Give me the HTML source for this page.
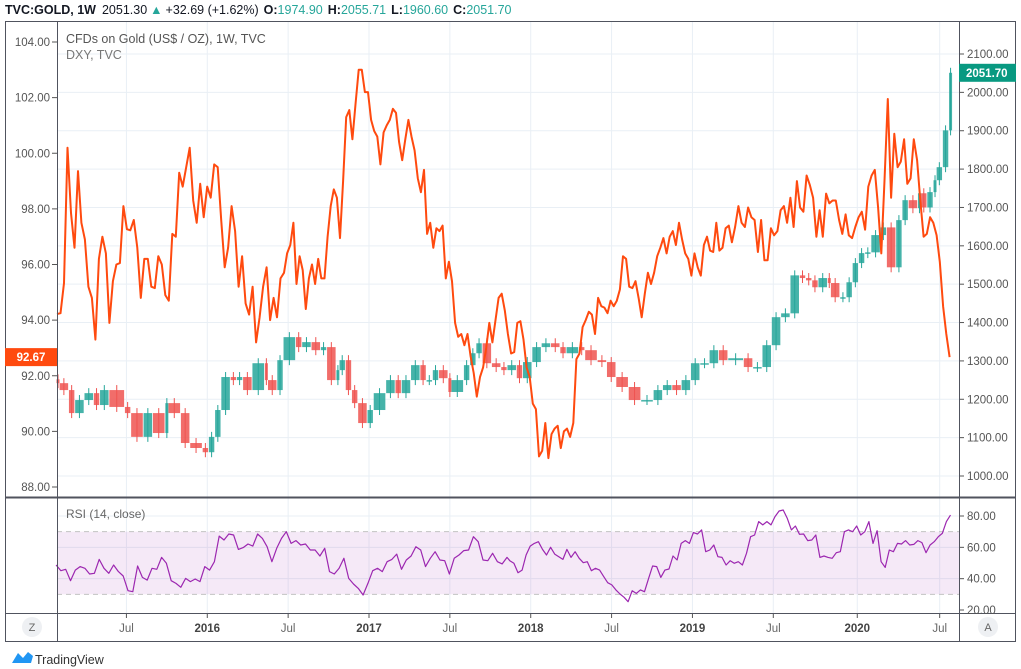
<!DOCTYPE html>
<html><head><meta charset="utf-8">
<style>
html,body{margin:0;padding:0;background:#fff;}
svg{display:block;font-family:"Liberation Sans",sans-serif;}
</style></head>
<body>
<svg id="chart" width="1021" height="669" viewBox="0 0 1021 669" xmlns="http://www.w3.org/2000/svg">
  <rect x="0" y="0" width="1021" height="669" fill="#fff"/>
  <g id="grid"></g>
  <g id="rsiband"></g>
  <g id="gold"></g>
  <g id="dxy"></g>
  <g id="rsi"></g>
  <g id="frame"></g>
  <g id="axes"></g>
  <text x="5" y="14" font-size="12.5" fill="#131722"><tspan font-weight="bold">TVC:GOLD, 1W</tspan><tspan dx="6">2051.30</tspan><tspan fill="#26a69a" dx="3">▲</tspan><tspan dx="3">+32.69 (+1.62%)</tspan><tspan dx="5" font-weight="bold">O:</tspan><tspan fill="#26a69a">1974.90</tspan><tspan dx="5" font-weight="bold">H:</tspan><tspan fill="#26a69a">2055.71</tspan><tspan dx="5" font-weight="bold">L:</tspan><tspan fill="#26a69a">1960.60</tspan><tspan dx="5" font-weight="bold">C:</tspan><tspan fill="#26a69a">2051.70</tspan></text>
  <text x="66" y="43" font-size="12.5" fill="#555">CFDs on Gold (US$ / OZ), 1W, TVC</text>
  <text x="66" y="59" font-size="12.5" fill="#777">DXY, TVC</text>
  <text x="66" y="518" font-size="12" fill="#666">RSI (14, close)</text>
  <circle cx="32" cy="627" r="10" fill="#eef0f3"/>
  <text x="32" y="631" font-size="11" fill="#666" text-anchor="middle">Z</text>
  <circle cx="988" cy="627" r="10" fill="#eef0f3"/>
  <text x="988" y="631" font-size="11" fill="#666" text-anchor="middle">A</text>
  <g>
    <path d="M12 663 L18 653 L23 658 L28 652 L33 656 L31 663 Z" fill="#2196f3"/>
    <text x="35" y="664" font-size="12.5" fill="#333">TradingView</text>
  </g>
</svg>
<script>
// ---- data ----
const goldWeeks = [0,1,4,6,9,12,14,17,22,24,28,31,35,36,40,43,47,49,51,53,56,58,60,63,67,68,71,73,77,79,82,85,87,90,91,93,95,97,100,102,106,109,111,114,117,119,121,123,126,127,131,133,135,137,140,143,145,148,150,153,156,159,162,164,168,170,174,177,180,184,188,192,195,198,201,204,207,210,213,216,221,224,227,230,233,236,239,241,243,245,248,249,252,254,256,258,260,262,265,267,270,272,274,277,278,280,282,283,285,287];
const goldClose = [1242,1224,1164,1198,1216,1185,1224,1180,1164,1102,1164,1112,1190,1164,1086,1073,1062,1102,1172,1258,1250,1258,1224,1294,1250,1224,1302,1362,1336,1349,1328,1336,1250,1276,1302,1224,1190,1138,1172,1216,1250,1216,1250,1289,1250,1250,1276,1255,1219,1250,1289,1320,1346,1294,1284,1276,1289,1255,1297,1336,1346,1336,1320,1336,1328,1302,1297,1258,1232,1198,1198,1224,1237,1224,1250,1294,1294,1328,1302,1307,1284,1284,1341,1414,1424,1523,1516,1510,1492,1516,1503,1466,1466,1505,1555,1581,1583,1628,1648,1544,1667,1719,1698,1737,1700,1740,1771,1805,1901,2051];
const dxyValues = [94.22,94.25,95.33,100.2,97.85,96.6,99.36,97.5,96.9,95.2,94.8,93.3,96.2,97.0,96.4,93.9,95.4,96.0,96.05,98.1,97.27,97.23,97.6,96.6,94.8,96.2,96.2,95.2,95.15,96.3,96.0,94.9,94.7,97.1,97.0,99.3,98.8,99.5,100.2,98.3,97.5,98.9,97.7,98.8,98.4,99.6,99.5,97.6,95.9,96.6,98.1,97.2,95.2,96.3,94.6,94.2,95.2,93.2,94.1,95.2,95.9,94.0,94.8,94.1,95.5,95.7,
96.4,96.7,97.5,95.3,96.3,95.8,94.4,95.5,96.0,95.3,96.2,95.5,95.5,97.0,98.1,98.7,98.4,96.95,99.0,101.3,101.55,100.5,101.8,103.0,103.0,102.2,102.2,101.2,100.8,100.6,99.6,100.75,101.0,101.2,101.6,101.45,100.4,99.75,100.5,101.2,100.6,100.1,99.1,98.6,99.4,97.1,97.5,96.6,97.3,97.2,97.4,95.5,96.1,95.4,93.9,93.4,93.5,93.1,93.5,92.7,92.1,91.25,91.95,92.3,93.0,93.9,93.2,94.0,94.8,94.95,94.35,
93.5,92.8,92.85,93.9,93.96,93.3,92.3,91.95,91.0,90.8,89.1,89.3,90.3,89.04,89.9,90.1,90.2,89.4,90.0,90.1,89.8,90.3,92.6,92.8,93.75,94.0,94.3,94.2,93.5,94.8,94.5,94.45,94.25,94.7,94.5,94.7,95.1,96.3,96.2,95.2,95.15,95.4,94.8,94.1,94.95,95.7,95.3,95.7,96.3,96.6,96.95,96.4,97.0,97.2,96.7,97.5,96.9,96.4,96.2,95.6,96.4,95.9,95.6,96.7,97.0,96.5,96.45,97.5,96.5,96.6,97.3,
97.4,96.8,97.35,98.1,97.5,97.35,98.05,97.7,97.6,96.45,97.6,96.15,96.15,97.3,97.05,97.2,97.95,98.1,97.5,98.4,97.35,99.0,98.05,97.9,99.2,98.85,98.4,97.0,97.95,97.0,98.55,98.2,98.3,98.3,97.6,97.1,97.8,97.05,96.95,97.35,97.7,97.9,97.25,98.8,99.2,99.4,98.05,96.4,99.1,101.95,98.4,100.7,99.5,99.7,100.5,98.9,99.1,100.5,99.75,98.3,97.0,97.1,97.7,97.5,97.05,96.1,94.5,93.5,92.67];
const dxySegCounts = [66,71,72];
const dxySegWeeks = [[0,73],[74,144],[145,216],[217,287]];
const rsiValues = [48.7,45.1,46,38.7,45.5,47.7,46.6,43,43.4,52.3,46.6,43.4,48.7,44.5,41.7,32.3,31.7,48.1,40.8,39.1,46.6,46,53.6,49.8,38.7,37,34.5,40.2,38.1,39.8,38.1,47.7,45.5,50.8,67.2,64.7,68.5,67.9,58.7,59.8,62.1,60.8,68.5,65.7,60.4,50.8,59.4,65.7,70,62.5,64.3,61.5,62.1,58.3,58.3,54.5,59.4,44.5,43,46.6,53,40.2,36.6,33.8,29.6,37,45.1,46.6,44.5,50.8,52.3,55.7,46,51.9,54.5,60.4,58.3,47.7,53,57.2,51.9,51.5,43,53,55.1,57.9,58.3,66.8,63.6,51.9,51.5,56.2,50.8,49.4,53.6,
51.5,49.8,43.8,45.5,55.1,60.8,62.5,63.6,58.7,55.1,60,55.7,54,52.3,58.7,53.6,57.2,53,50.2,50.8,45.1,46.6,45.5,41.3,37.4,36,32.8,30.2,28.1,25.3,32.3,30.6,32.8,31.7,40.2,48.1,47.7,40.8,45.5,46.2,54.5,51.9,62.5,64.3,62.5,69.4,68.5,71.1,57.2,58.3,61.5,54,53.6,48.7,51.5,49.8,50.8,48.7,56.2,66.8,67.9,76.4,74.3,76.4,74.3,79.6,83.2,83.8,78.5,71.1,73.6,68.3,68.5,64.3,64.7,67.9,53.6,54.5,53.6,53,56.6,57.2,70,71.1,70,73.6,67.9,70,76.4,62.5,70.6,50.8,47.2,58.3,57.2,62.5,62.1,64.3,61.5,61.9,64.3,63,56.6,61.5,63.6,66.8,68.9,76.4,80.6];
const rsiSegCounts = [95];
const rsiSegWeeks = [[-0.3,144.7],[145.6,287.3]];
const leftTicks = [104,102,100,98,96,94,92,90,88];
const rightTicks = [2100,2000,1900,1800,1700,1600,1500,1400,1300,1200,1100,1000];
const rsiTicks = [80,60,40,20];
const timeLabels = ["Jul","2016","Jul","2017","Jul","2018","Jul","2019","Jul","2020","Jul"];
const timeLabelWeeks = [22,48,74,100,126,152,178,204,230,257,283.5];

// ---- axis functions ----
const yL = v => 42 + (104 - v) * 27.8125;
const yR = p => 54 + (2100 - p) * 0.38364;
const yRsi = r => 516 + (80 - r) * 1.5667;
const xW = w => 58 + w * 3.11;
const NS = "http://www.w3.org/2000/svg";
function mk(tag, attrs, parent){ const e=document.createElementNS(NS,tag); for(const k in attrs) e.setAttribute(k,attrs[k]); parent.appendChild(e); return e; }
function segWeeks(values, counts, spans){
  const out=[]; let idx=0;
  spans.forEach((span,s)=>{
    const cnt = s<counts.length ? counts[s] : values.length-idx;
    for(let k=0;k<cnt;k++) out.push(span[0]+(cnt>1?k*(span[1]-span[0])/(cnt-1):0));
    idx+=cnt;
  });
  return out;
}

const grid = document.getElementById('grid');
rightTicks.forEach(p=>{ const l=mk('line',{x1:57,x2:959,y1:yR(p),y2:yR(p),stroke:'#e9eff5','stroke-width':1},grid);
  
   });
timeLabelWeeks.forEach(w=>{ const l=mk('line',{x1:xW(w),x2:xW(w),y1:22,y2:613,stroke:'#e9eff5','stroke-width':1},grid);
  
   });
[80,60,40].forEach(r=>{ const l=mk('line',{x1:57,x2:959,y1:yRsi(r),y2:yRsi(r),stroke:'#e9eff5'},grid);
  
   });

const band = document.getElementById('rsiband');
mk('rect',{x:57,y:yRsi(70),width:902,height:yRsi(30)-yRsi(70),fill:'#9c27b0','fill-opacity':0.1},band);
[70,30].forEach(r=>{ const l=mk('line',{x1:57,x2:959,y1:yRsi(r),y2:yRsi(r),stroke:'#c3c3c3','stroke-dasharray':'5,4'},band);
  
   });

// gold candles
const gg = document.getElementById('gold');
for(let i=0;i<goldClose.length;i++){
  const c=goldClose[i], o=i>0?goldClose[i-1]:c+10;
  const up=c>=o, col=up?'#26a69a':'#ef5350';
  const gap=i<goldClose.length-1?goldWeeks[i+1]-goldWeeks[i]:1;
  const x0=xW(goldWeeks[i])-1.5;
  const wd=Math.max(3, gap*3.11-0.8);
  const yt=yR(Math.max(o,c)), yb=yR(Math.min(o,c));
  const w=mk('line',{x1:x0+wd/2,x2:x0+wd/2,y1:yt-5,y2:yb+5,stroke:col,'stroke-width':1},gg);
  
  
  const b=mk('rect',{x:x0,y:yt,width:wd,height:Math.max(1.5,yb-yt),fill:col,'fill-opacity':0.85},gg);
  
  
}

// DXY line
const dxyWeekOf=segWeeks(dxyValues,dxySegCounts,dxySegWeeks);
const dg=document.getElementById('dxy');
const dpts=dxyValues.map((v,i)=>(xW(dxyWeekOf[i])-1).toFixed(1)+','+yL(v).toFixed(1)).join(' ');
const dl=mk('polyline',{points:dpts,fill:'none',stroke:'#ff4a0f','stroke-width':2,'stroke-linejoin':'round'},dg);



// RSI line
const rsiWeekOf=segWeeks(rsiValues,rsiSegCounts,rsiSegWeeks);
const rg=document.getElementById('rsi');
const rpts=rsiValues.map((v,i)=>(xW(rsiWeekOf[i])-1).toFixed(1)+','+yRsi(v).toFixed(1)).join(' ');
const rl=mk('polyline',{points:rpts,fill:'none',stroke:'#9c27b0','stroke-width':1.2,'stroke-linejoin':'round'},rg);



// frame
const fr=document.getElementById('frame');
mk('rect',{x:5.5,y:21.5,width:1010,height:620,fill:'none',stroke:'#50535e'},fr);
mk('line',{x1:57.5,x2:57.5,y1:22,y2:641,stroke:'#50535e'},fr);
mk('line',{x1:959.5,x2:959.5,y1:22,y2:641,stroke:'#50535e'},fr);
mk('line',{x1:5,x2:1016,y1:497.5,y2:497.5,stroke:'#50535e','stroke-width':2},fr);
mk('line',{x1:5,x2:1016,y1:613.5,y2:613.5,stroke:'#50535e'},fr);

// axes labels
const ax=document.getElementById('axes');
leftTicks.forEach(v=>{ const y=yL(v);
  mk('line',{x1:52,x2:57,y1:y,y2:y,stroke:'#555'},ax);
  const t=mk('text',{x:50,y:y+4,'font-size':11.5,fill:'#555','text-anchor':'end'},ax); t.textContent=v.toFixed(2);
  
   });
rightTicks.forEach(p=>{ const y=yR(p);
  mk('line',{x1:960,x2:964,y1:y,y2:y,stroke:'#555'},ax);
  const t=mk('text',{x:967,y:y+4,'font-size':11.5,fill:'#555'},ax); t.textContent=p.toFixed(2);
  
   });
rsiTicks.forEach(r=>{ const y=yRsi(r);
  mk('line',{x1:960,x2:964,y1:y,y2:y,stroke:'#555'},ax);
  const t=mk('text',{x:967,y:y+4,'font-size':11.5,fill:'#555'},ax); t.textContent=r.toFixed(2);
  
   });
timeLabels.forEach((s,i)=>{ const x=xW(timeLabelWeeks[i]);
  mk('line',{x1:x,x2:x,y1:614,y2:618,stroke:'#555'},ax);
  const yr=/^\d/.test(s);
  const t=mk('text',{x:x,y:632,'font-size':11.5,fill:yr?'#444':'#666','font-weight':yr?'bold':'normal','text-anchor':'middle'},ax); t.textContent=s;
  
   });

const lastD=dxyValues[dxyValues.length-1], lastG=goldClose[goldClose.length-1];
const lb=mk('rect',{x:5,y:yL(lastD)-9,width:52,height:18,fill:'#ff4a0f'},ax);


const lt=mk('text',{x:31,y:yL(lastD)+4,'font-size':11.5,fill:'#fff','text-anchor':'middle','font-weight':'bold'},ax); lt.textContent=lastD.toFixed(2);


const gb=mk('rect',{x:959,y:yR(lastG)-9,width:57,height:18,fill:'#089981'},ax);


const gt=mk('text',{x:966,y:yR(lastG)+4,'font-size':11.5,fill:'#fff','font-weight':'bold'},ax); gt.textContent='2051.70';


</script>
</body></html>
